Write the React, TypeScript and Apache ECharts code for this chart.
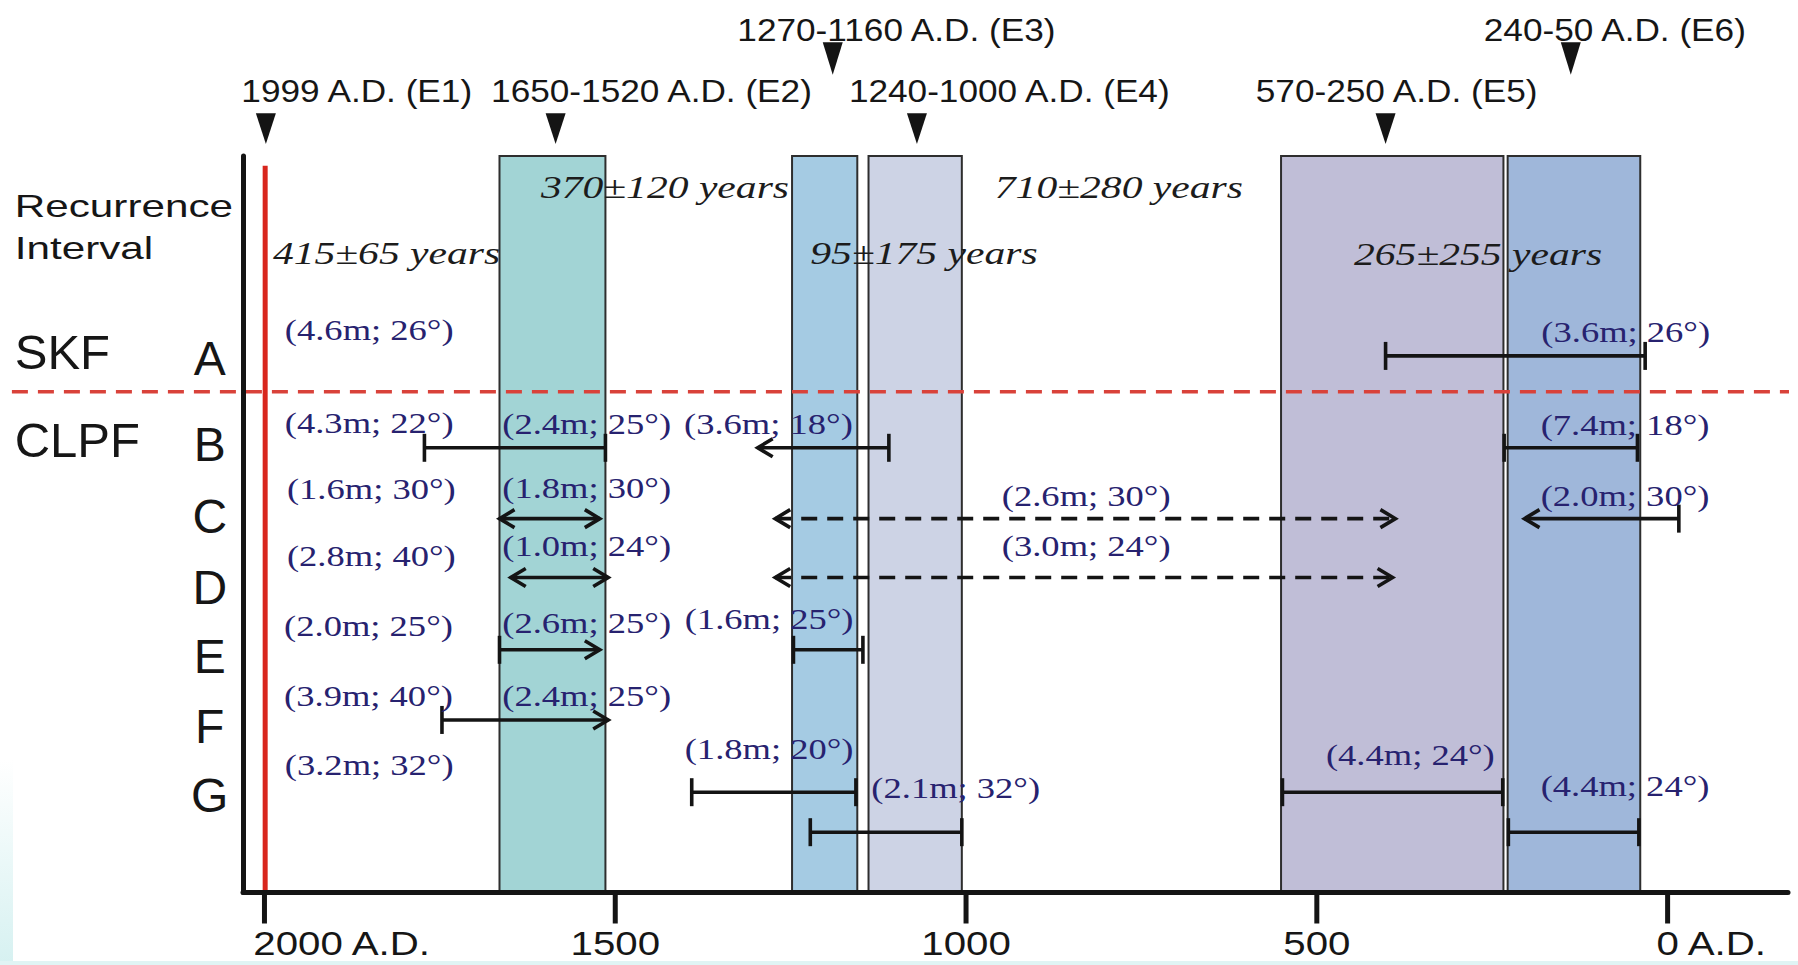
import React, { useEffect, useRef } from "react";
import * as echarts from "echarts";

// ---------- axis extents (years A.D. horizontally, row units vertically) ----------
const yearAxisMin = -171.6;
const yearAxisMax = 2030.6;
const rowAxisMax = 10.5;

// ---------- x-axis ticks ----------
const tickValues = [2000, 1500, 1000, 500, 0];
const tickLabels = ["2000 A.D.", "1500", "1000", "500", "0 A.D."];

// ---------- event bands (years A.D.) ----------
const bandNames = ["E2", "E3", "E4", "E5", "E6"];
const bandStart = [1665, 1248, 1139, 551, 228];
const bandEnd = [1514, 1155, 1006, 234, 39];
const bandColors = ["#a2d4d5", "#a5cbe3", "#cdd3e5", "#c0bed7", "#9fb7da"];

// ---------- most recent event E1 ----------
const latestEventYear = 1999;
const latestEventTop = 0.14;

// ---------- event labels along the top ----------
const eventLabels = [
  "1999 A.D. (E1)",
  "1650-1520 A.D. (E2)",
  "1270-1160 A.D. (E3)",
  "1240-1000 A.D. (E4)",
  "570-250 A.D. (E5)",
  "240-50 A.D. (E6)",
];
const eventLabelYear = [2033, 1677, 1326, 1167, 587, 262];
const eventMarkerYear = [1998, 1585, 1190, 1070, 402, 138];
const eventTier = [0, 0, 1, 0, 0, 1];
const tierLabelY = [-0.93, -1.8];
const tierMarkerTop = [-0.61, -1.62];
const tierMarkerTip = [-0.17, -1.16];

// ---------- left-hand titles ----------
const sideTitles = ["Recurrence", "Interval"];
const sideTitleY = [0.71, 1.31];
const faultNames = ["SKF", "CLPF"];
const faultNameY = [2.8, 4.05];
const sideTextYear = 2356;
const rowNames = ["A", "B", "C", "D", "E", "F", "G"];
const rowNameY = [2.88, 4.11, 5.14, 6.15, 7.13, 8.13, 9.11];
const rowNameYear = 2078;

// ---------- fault boundary (dashed red) ----------
const boundaryY = 3.36;
const boundaryFrom = 2360;
const boundaryTo = -173;

// ---------- rupture segments ----------
const segFrom = [402, 1772, 1297, 233, 1665, 1272, 204, 1649, 1272, 1665, 1246, 1747, 1391, 549, 1222, 227];
const segTo = [32, 1514, 1110, 43, 1522, 388, -16, 1510, 392, 1522, 1147, 1510, 1157, 235, 1006, 41];
const segY = [2.85, 4.16, 4.16, 4.16, 5.17, 5.17, 5.17, 6.01, 6.01, 7.04, 7.04, 8.04, 9.07, 9.07, 9.64, 9.64];
const segLeftEnd = ["cap", "cap", "arrow", "cap", "arrow", "arrow", "arrow", "arrow", "arrow", "cap", "cap", "cap", "cap", "cap", "cap", "cap"];
const segRightEnd = ["cap", "cap", "cap", "cap", "arrow", "arrow", "cap", "arrow", "arrow", "arrow", "cap", "arrow", "cap", "cap", "cap", "cap"];
const segDashed = [false, false, false, false, false, true, false, false, true, false, false, false, false, false, false, false];

// ---------- slip / dip labels ----------
const slipText = [
  "(4.6m; 26°)", "(3.6m; 26°)",
  "(4.3m; 22°)", "(2.4m; 25°)", "(3.6m; 18°)", "(7.4m; 18°)",
  "(1.6m; 30°)", "(1.8m; 30°)", "(2.6m; 30°)", "(2.0m; 30°)",
  "(2.8m; 40°)", "(1.0m; 24°)", "(3.0m; 24°)",
  "(2.0m; 25°)", "(2.6m; 25°)", "(1.6m; 25°)",
  "(3.9m; 40°)", "(2.4m; 25°)",
  "(3.2m; 32°)", "(1.8m; 20°)", "(2.1m; 32°)", "(4.4m; 24°)", "(4.4m; 24°)",
];
const slipYear = [1971, 180, 1971, 1661, 1402, 181, 1968, 1661, 949, 181, 1968, 1661, 949, 1972, 1661, 1401, 1972, 1661, 1971, 1401, 1135, 487, 181];
const slipY = [2.48, 2.51, 3.81, 3.82, 3.82, 3.84, 4.75, 4.74, 4.85, 4.85, 5.71, 5.56, 5.56, 6.71, 6.66, 6.61, 7.7, 7.7, 8.69, 8.46, 9.02, 8.54, 8.99];

// ---------- recurrence intervals ----------
const recText = ["415±65 years", "370±120 years", "95±175 years", "710±280 years", "265±255 years"];
const recYear = [1988, 1606, 1222, 959, 447];
const recY = [1.38, 0.45, 1.38, 0.45, 1.4];

const SANS = '"Liberation Sans", Arial, Helvetica, sans-serif';
const SERIF = '"Liberation Serif", "Times New Roman", Times, serif';

function textEl(x: number, y: number, text: string, font: string, fill: string, scaleX: number, align: string) {
  return {
    type: "text",
    x,
    y,
    scaleX,
    scaleY: 1,
    style: {
      text,
      font,
      fill,
      align,
      textAlign: align,
      verticalAlign: "middle",
      textVerticalAlign: "middle",
    },
  };
}

export default function App() {
  const ref = useRef<HTMLDivElement>(null);

  useEffect(() => {
    if (!ref.current) return;
    const chart = echarts.init(ref.current, undefined, { renderer: "svg" });

    const ink = "#141414";
    const lw = 3.6;

    const option: any = {
      animation: false,
      backgroundColor: "#ffffff",
      grid: { left: 243, right: 10, top: 156, bottom: 72.5, containLabel: false },
      xAxis: {
        type: "value",
        min: yearAxisMin,
        max: yearAxisMax,
        inverse: true,
        position: "bottom",
        z: 10,
        axisLine: { show: true, onZero: false, lineStyle: { color: ink, width: 5 } },
        axisTick: { show: false },
        axisLabel: { show: false },
        splitLine: { show: false },
      },
      yAxis: {
        type: "value",
        min: 0,
        max: rowAxisMax,
        inverse: true,
        position: "left",
        z: 10,
        axisLine: { show: true, onZero: false, lineStyle: { color: ink, width: 5 } },
        axisTick: { show: false },
        axisLabel: { show: false },
        splitLine: { show: false },
      },
      graphic: [
        {
          type: "rect",
          left: 0,
          top: 760,
          z: -1,
          shape: { width: 13, height: 205 },
          style: {
            fill: new echarts.graphic.LinearGradient(0, 0, 0, 1, [
              { offset: 0, color: "rgba(214,241,241,0)" },
              { offset: 1, color: "rgba(214,241,241,1)" },
            ]),
          },
        },
        { type: "rect", left: 0, top: 961, z: -1, shape: { width: 1798, height: 4 }, style: { fill: "#e0f4f4" } },
      ],
      series: [
        // event bands
        {
          type: "custom",
          coordinateSystem: "cartesian2d",
          clip: false,
          silent: true,
          z: 1,
          data: bandStart.map((s, i) => [s, bandEnd[i]]),
          renderItem: (params: any, api: any) => {
            const i = params.dataIndex;
            const p1 = api.coord([bandStart[i], 0]);
            const p2 = api.coord([bandEnd[i], rowAxisMax]);
            return {
              type: "rect",
              name: bandNames[i],
              shape: { x: Math.min(p1[0], p2[0]), y: p1[1], width: Math.abs(p2[0] - p1[0]), height: p2[1] - p1[1] },
              style: { fill: bandColors[i], stroke: "#2e2e2e", lineWidth: 2 },
            };
          },
        },
        // latest event red line
        {
          type: "custom",
          coordinateSystem: "cartesian2d",
          clip: false,
          silent: true,
          z: 2,
          data: [[latestEventYear, latestEventTop]],
          renderItem: (params: any, api: any) => {
            const a = api.coord([latestEventYear, latestEventTop]);
            const b = api.coord([latestEventYear, rowAxisMax]);
            return { type: "line", shape: { x1: a[0], y1: a[1], x2: b[0], y2: b[1] }, style: { stroke: "#d8261d", lineWidth: 5 } };
          },
        },
        // fault boundary dashed
        {
          type: "custom",
          coordinateSystem: "cartesian2d",
          clip: false,
          silent: true,
          z: 3,
          data: [[boundaryFrom, boundaryY]],
          renderItem: (params: any, api: any) => {
            const a = api.coord([boundaryFrom, boundaryY]);
            const b = api.coord([boundaryTo, boundaryY]);
            return {
              type: "line",
              shape: { x1: a[0], y1: a[1], x2: b[0], y2: b[1] },
              style: { stroke: "#d9423a", lineWidth: 3.5, lineDash: [16, 10] },
            };
          },
        },
        // rupture segments
        {
          type: "custom",
          coordinateSystem: "cartesian2d",
          clip: false,
          silent: true,
          z: 4,
          data: segFrom.map((f, i) => [f, segY[i]]),
          renderItem: (params: any, api: any) => {
            const i = params.dataIndex;
            const a = api.coord([segFrom[i], segY[i]]);
            const b = api.coord([segTo[i], segY[i]]);
            const xL = Math.min(a[0], b[0]);
            const xR = Math.max(a[0], b[0]);
            const y = a[1];
            const children: any[] = [];
            const mainStyle: any = { stroke: ink, lineWidth: lw };
            if (segDashed[i]) mainStyle.lineDash = [16, 10];
            children.push({ type: "line", shape: { x1: xL, y1: y, x2: xR, y2: y }, style: mainStyle });
            const addEnd = (kind: string, x: number, dir: number) => {
              if (kind === "cap") {
                children.push({ type: "line", shape: { x1: x, y1: y - 14, x2: x, y2: y + 14 }, style: { stroke: ink, lineWidth: lw } });
              } else {
                children.push({
                  type: "polyline",
                  shape: { points: [[x - dir * 15, y - 9], [x, y], [x - dir * 15, y + 9]] },
                  style: { stroke: ink, lineWidth: lw, fill: "none" },
                });
              }
            };
            addEnd(segLeftEnd[i], xL, -1);
            addEnd(segRightEnd[i], xR, 1);
            return { type: "group", children };
          },
        },
        // slip labels
        {
          type: "custom",
          coordinateSystem: "cartesian2d",
          clip: false,
          silent: true,
          z: 5,
          data: slipYear.map((yr, i) => [yr, slipY[i]]),
          renderItem: (params: any, api: any) => {
            const i = params.dataIndex;
            const p = api.coord([slipYear[i], slipY[i]]);
            return textEl(p[0], p[1], slipText[i], `29px ${SERIF}`, "#27226f", 1.26, "left");
          },
        },
        // recurrence intervals
        {
          type: "custom",
          coordinateSystem: "cartesian2d",
          clip: false,
          silent: true,
          z: 5,
          data: recYear.map((yr, i) => [yr, recY[i]]),
          renderItem: (params: any, api: any) => {
            const i = params.dataIndex;
            const p = api.coord([recYear[i], recY[i]]);
            return textEl(p[0], p[1], recText[i], `italic 32px ${SERIF}`, "#1c1c1c", 1.3, "left");
          },
        },
        // event labels + markers
        {
          type: "custom",
          coordinateSystem: "cartesian2d",
          clip: false,
          silent: true,
          z: 5,
          data: eventMarkerYear.map((yr, i) => [yr, tierLabelY[eventTier[i]]]),
          renderItem: (params: any, api: any) => {
            const i = params.dataIndex;
            const t = eventTier[i];
            const top = api.coord([eventMarkerYear[i], tierMarkerTop[t]]);
            const tip = api.coord([eventMarkerYear[i], tierMarkerTip[t]]);
            const lab = api.coord([eventLabelYear[i], tierLabelY[t]]);
            return {
              type: "group",
              children: [
                {
                  type: "polygon",
                  shape: { points: [[top[0] - 10, top[1]], [top[0] + 10, top[1]], [tip[0], tip[1]]] },
                  style: { fill: ink },
                },
                textEl(lab[0], lab[1], eventLabels[i], `32px ${SANS}`, "#161616", 1.1, "left"),
              ],
            };
          },
        },
        // left titles, fault names, row letters
        {
          type: "custom",
          coordinateSystem: "cartesian2d",
          clip: false,
          silent: true,
          z: 5,
          data: [[sideTextYear, 0]],
          renderItem: (params: any, api: any) => {
            const children: any[] = [];
            sideTitles.forEach((s, i) => {
              const p = api.coord([sideTextYear, sideTitleY[i]]);
              children.push(textEl(p[0], p[1], s, `32px ${SANS}`, "#161616", 1.32, "left"));
            });
            faultNames.forEach((s, i) => {
              const p = api.coord([sideTextYear, faultNameY[i]]);
              children.push(textEl(p[0], p[1], s, `49px ${SANS}`, "#161616", 1.0, "left"));
            });
            rowNames.forEach((s, i) => {
              const p = api.coord([rowNameYear, rowNameY[i]]);
              children.push(textEl(p[0], p[1], s, `48px ${SANS}`, "#161616", 1.0, "center"));
            });
            return { type: "group", children };
          },
        },
        // x-axis ticks and labels
        {
          type: "custom",
          coordinateSystem: "cartesian2d",
          clip: false,
          silent: true,
          z: 6,
          data: tickValues.map((v) => [v, rowAxisMax]),
          renderItem: (params: any, api: any) => {
            const i = params.dataIndex;
            const p = api.coord([tickValues[i], rowAxisMax]);
            const label = tickLabels[i];
            const isAD = label.indexOf("A.D.") >= 0;
            const fs = 33;
            const sx = 1.22;
            const digitW = fs * 0.556 * sx;
            return {
              type: "group",
              children: [
                { type: "line", shape: { x1: p[0], y1: p[1], x2: p[0], y2: p[1] + 31 }, style: { stroke: ink, lineWidth: 5 } },
                textEl(isAD ? p[0] - digitW / 2 : p[0], p[1] + 51, label, `${fs}px ${SANS}`, "#161616", sx, isAD ? "left" : "center"),
              ],
            };
          },
        },
      ],
    };

    chart.setOption(option);
    return () => {
      chart.dispose();
    };
  }, []);

  return (
    <div
      ref={ref}
      style={{ position: "fixed", left: 0, top: 0, width: 1798, height: 965, background: "#fff" }}
    />
  );
}
